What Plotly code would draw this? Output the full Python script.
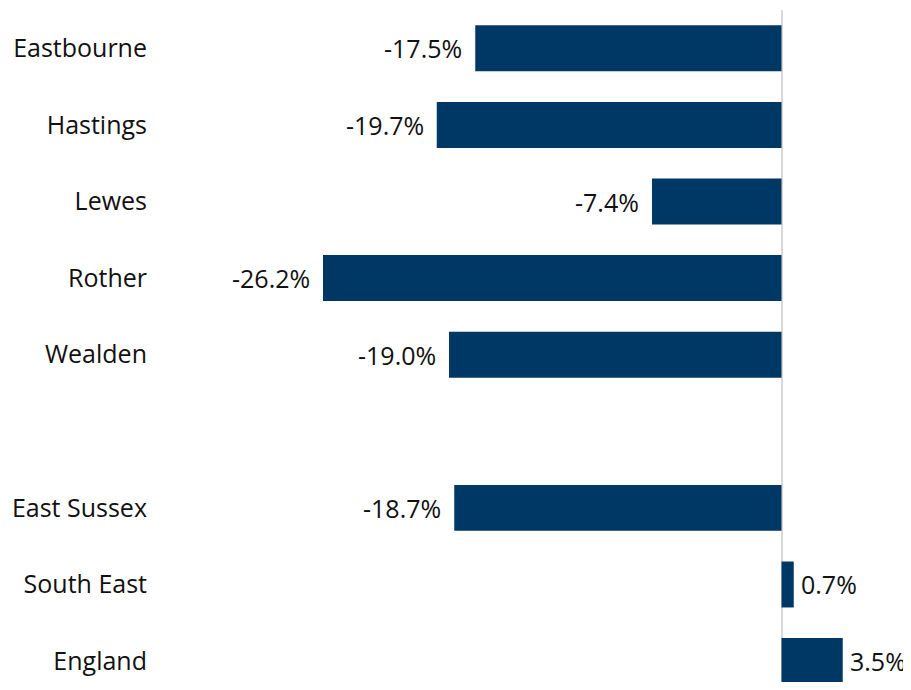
import plotly.graph_objects as go

# Données : variation en pourcentage par zone
areas = ["Eastbourne", "Hastings", "Lewes", "Rother", "Wealden",
         "East Sussex", "South East", "England"]
changes = [-17.5, -19.7, -7.4, -26.2, -19.0, -18.7, 0.7, 3.5]
# position sur l'axe (un emplacement vide entre Wealden et East Sussex)
positions = [0, 1, 2, 3, 4, 6, 7, 8]
value_labels = [f"{v:.1f}%" for v in changes]

BAR_COLOUR = "#003865"
FONT = "Open Sans, Noto Sans, sans-serif"

fig = go.Figure()

fig.add_trace(go.Bar(
    x=changes,
    y=positions,
    orientation="h",
    width=0.6,
    marker=dict(color=BAR_COLOUR, line=dict(width=0)),
    hoverinfo="skip",
))

# Étiquettes de valeur à l'extérieur des barres
for v, p, lab in zip(changes, positions, value_labels):
    fig.add_annotation(
        x=v, y=p, text=lab, showarrow=False,
        xanchor="right" if v < 0 else "left",
        xshift=-11 if v < 0 else 5,
        font=dict(family=FONT, size=25, color="#111111"),
    )

# la page HTML ajoute une marge de 8 px : on compense ici
fig.update_layout(
    width=903,
    height=674,
    margin=dict(l=147, r=0, t=2, b=0),
    paper_bgcolor="white",
    plot_bgcolor="white",
    showlegend=False,
    font=dict(family=FONT, size=25, color="#111111"),
)

fig.update_xaxes(
    range=[-35.8, 7.4],
    showgrid=False,
    showticklabels=False,
    zeroline=True,
    zerolinecolor="#d9d9d9",
    zerolinewidth=2,
)

fig.update_yaxes(
    range=[8.273, -0.5],
    tickvals=positions,
    ticktext=areas,
    showgrid=False,
    zeroline=False,
    ticks="",
    ticklabelstandoff=7,
)

fig.write_html("out.html")
